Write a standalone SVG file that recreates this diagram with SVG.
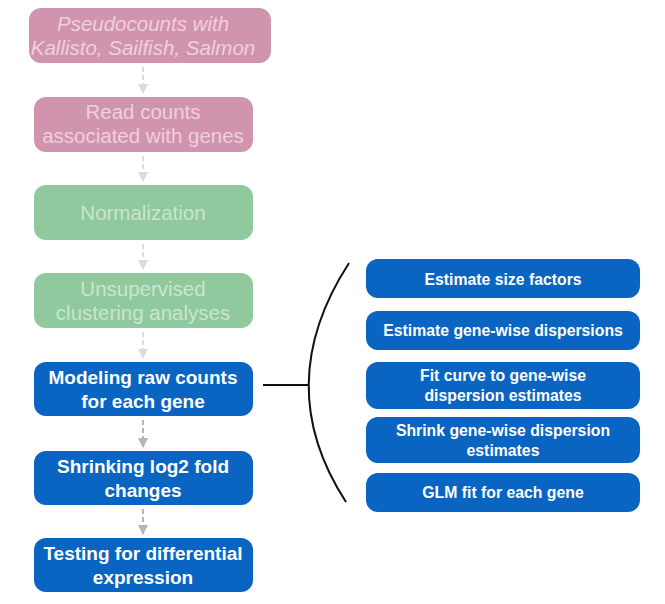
<svg xmlns="http://www.w3.org/2000/svg" width="665" height="604" viewBox="0 0 665 604">
<style>
text{font-family:"Liberation Sans",Arial,sans-serif;text-anchor:middle}
.pink{fill:#d194ae}
.green{fill:#90c99d}
.blue{fill:#0a64c2}
.tp{fill:#f0cfdc;font-size:20.5px}
.tg{fill:#c9e6cd;font-size:20.5px}
.tb{fill:#ffffff;font-size:19px;font-weight:bold}
.ts{fill:#ffffff;font-size:15.8px;font-weight:bold}
.c1{stroke:#dcdcdc;stroke-width:2;stroke-dasharray:5,3;fill:none}
.c2{stroke:#b5b5b5;stroke-width:2;stroke-dasharray:5,3;fill:none}
</style>
<defs>
<marker id="ah1" viewBox="0 0 10 10" refX="9" refY="5" markerWidth="5" markerHeight="5" orient="auto"><path d="M0,0 L10,5 L0,10 z" fill="#dcdcdc"/></marker>
<marker id="ah2" viewBox="0 0 10 10" refX="9" refY="5" markerWidth="5" markerHeight="5" orient="auto"><path d="M0,0 L10,5 L0,10 z" fill="#b5b5b5"/></marker>
</defs>
<rect width="665" height="604" fill="#ffffff"/>
<g id="connectors">
<line class="c1" x1="143" y1="67" x2="143" y2="93" marker-end="url(#ah1)"/>
<line class="c1" x1="143" y1="156" x2="143" y2="181" marker-end="url(#ah1)"/>
<line class="c1" x1="143" y1="244" x2="143" y2="269" marker-end="url(#ah1)"/>
<line class="c1" x1="143" y1="332" x2="143" y2="358" marker-end="url(#ah1)"/>
<line class="c2" x1="143" y1="420" x2="143" y2="447" marker-end="url(#ah2)"/>
<line class="c2" x1="143" y1="509" x2="143" y2="534" marker-end="url(#ah2)"/>
<line x1="263" y1="385" x2="309" y2="385" stroke="#111" stroke-width="2"/>
<path d="M349,263 Q270,385 346,502" stroke="#111" stroke-width="2" fill="none"/>
</g>
<g id="n1"><rect class="pink" x="29" y="8" width="242" height="55" rx="12"/><text class="tp" font-style="italic" x="143" y="31">Pseudocounts with</text><text class="tp" font-style="italic" x="143" y="55">Kallisto, Sailfish, Salmon</text></g>
<g id="n2"><rect class="pink" x="34" y="97" width="219" height="55" rx="12"/><text class="tp" x="143" y="119">Read counts</text><text class="tp" x="143" y="143">associated with genes</text></g>
<g id="n3"><rect class="green" x="34" y="185" width="219" height="55" rx="12"/><text class="tg" x="143" y="220">Normalization</text></g>
<g id="n4"><rect class="green" x="34" y="273" width="219" height="55" rx="12"/><text class="tg" x="143" y="296">Unsupervised</text><text class="tg" x="143" y="320">clustering analyses</text></g>
<g id="n5"><rect class="blue" x="34" y="362" width="219" height="54" rx="12"/><text class="tb" x="143" y="384">Modeling raw counts</text><text class="tb" x="143" y="408">for each gene</text></g>
<g id="n6"><rect class="blue" x="34" y="451" width="219" height="54" rx="12"/><text class="tb" x="143" y="473">Shrinking log2 fold</text><text class="tb" x="143" y="497">changes</text></g>
<g id="n7"><rect class="blue" x="34" y="538" width="219" height="54" rx="12"/><text class="tb" x="143" y="560">Testing for differential</text><text class="tb" x="143" y="584">expression</text></g>
<g id="r1"><rect class="blue" x="366" y="259" width="274" height="39" rx="12"/><text class="ts" x="503" y="285">Estimate size factors</text></g>
<g id="r2"><rect class="blue" x="366" y="311" width="274" height="39" rx="12"/><text class="ts" x="503" y="336">Estimate gene-wise dispersions</text></g>
<g id="r3"><rect class="blue" x="366" y="362" width="274" height="47" rx="12"/><text class="ts" x="503" y="381">Fit curve to gene-wise</text><text class="ts" x="503" y="401">dispersion estimates</text></g>
<g id="r4"><rect class="blue" x="366" y="417" width="274" height="46" rx="12"/><text class="ts" x="503" y="436">Shrink gene-wise dispersion</text><text class="ts" x="503" y="456">estimates</text></g>
<g id="r5"><rect class="blue" x="366" y="473" width="274" height="39" rx="12"/><text class="ts" x="503" y="498">GLM fit for each gene</text></g>
</svg>
